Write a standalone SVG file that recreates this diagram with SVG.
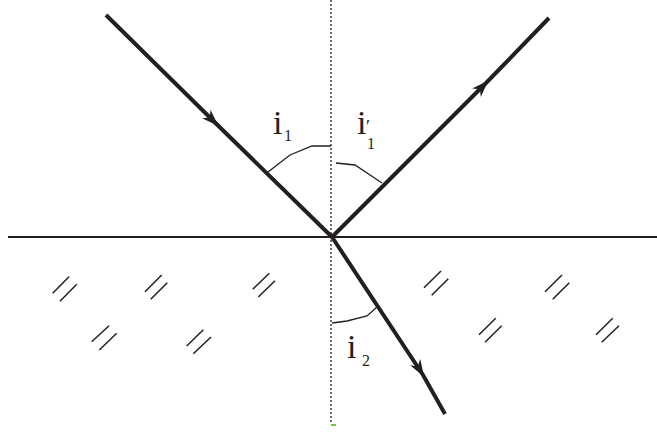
<svg xmlns="http://www.w3.org/2000/svg" width="657" height="447" viewBox="0 0 657 447">
<style>
.ray{stroke:#231f20;stroke-width:4;fill:none;stroke-linecap:butt;marker-mid:url(#arr)}
.arc{stroke:#231f20;stroke-width:1.3;fill:none}
.hatch line{stroke:#231f20;stroke-width:1.5}
.lbl{font-family:"Liberation Serif","Times New Roman",serif;fill:#231f20}
</style>
<defs>
<marker id="arr" markerUnits="userSpaceOnUse" markerWidth="20" markerHeight="14" viewBox="-16 -7 18 14" refX="0" refY="0" orient="auto" overflow="visible">
<path d="M2,0 L-15,-6 L-10,0 L-15,6 Z" fill="#231f20"/>
</marker>
</defs>
<rect width="657" height="447" fill="#fff"/>
<g id="surface">
<line x1="8" y1="237" x2="657" y2="237" stroke="#231f20" stroke-width="1.8"/>
</g>
<g id="normal">
<line x1="331" y1="0" x2="331" y2="424" stroke="#231f20" stroke-width="1.3" stroke-dasharray="2 2"/>
<rect x="331" y="424" width="5" height="2" fill="#7ac143"/>
</g>
<g id="hatching" class="hatch">
<line x1="52.7" y1="293.3" x2="69" y2="276.7"/><line x1="60" y1="301.3" x2="76.7" y2="284.3"/>
<line x1="145" y1="291.7" x2="161.7" y2="275"/><line x1="150.7" y1="299.3" x2="167.3" y2="282.7"/>
<line x1="252.7" y1="289.3" x2="269.3" y2="273.3"/><line x1="258.3" y1="297" x2="275" y2="280.7"/>
<line x1="91.7" y1="341.7" x2="109" y2="325.7"/><line x1="99.3" y1="350" x2="116.7" y2="333.3"/>
<line x1="186.7" y1="346" x2="203.3" y2="329.7"/><line x1="193.3" y1="353.7" x2="211" y2="337"/>
<line x1="424" y1="287.7" x2="441" y2="271"/><line x1="431.7" y1="295.3" x2="448.3" y2="278.7"/>
<line x1="545" y1="291.7" x2="562" y2="275"/><line x1="552.7" y1="299.3" x2="569.3" y2="282.7"/>
<line x1="479" y1="334.7" x2="495.7" y2="318.3"/><line x1="485" y1="342.3" x2="501.7" y2="325.7"/>
<line x1="596" y1="334.7" x2="612.7" y2="318.3"/><line x1="601.7" y1="342.3" x2="619" y2="325.7"/>
</g>
<g id="connectors">
<path id="incident" class="ray" d="M106,15 L217,124.5 L332,237"/>
<path id="reflected" class="ray" d="M332,237 L487,82 L549,18"/>
<path id="refracted" class="ray" d="M332,237 L423,375 L445,414"/>
</g>
<g id="angle-i1">
<path class="arc" d="M268,172 L290,155 L312,146 L331,146"/>
<text class="lbl" x="273" y="134" font-size="34">i</text>
<text class="lbl" x="284" y="141" font-size="16">1</text>
</g>
<g id="angle-i1p">
<path class="arc" d="M336,163 L355,165 L382,183"/>
<text class="lbl" x="357" y="134" font-size="34">i</text>
<text class="lbl" x="366" y="133" font-size="18">′</text>
<text class="lbl" x="367" y="149" font-size="16">1</text>
</g>
<g id="angle-i2">
<path class="arc" d="M332,323 L347,321 L367,316 L377,307"/>
<text class="lbl" x="347" y="358" font-size="34">i</text>
<text class="lbl" x="362" y="366" font-size="16">2</text>
</g>
</svg>
